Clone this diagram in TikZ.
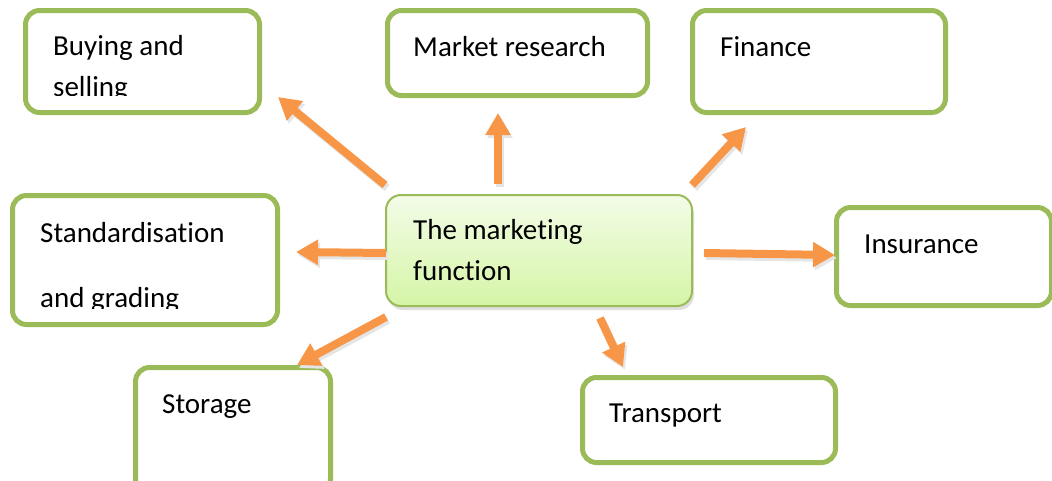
\documentclass[tikz,border=0pt]{standalone}
\usepackage{fontspec}
\setmainfont{Carlito}[Ligatures=CommonOff]
\usepackage{xcolor}
\usetikzlibrary{positioning}
\usetikzlibrary{arrows.meta}
\usetikzlibrary{shadows}

\definecolor{boxgreen}{HTML}{9BBB59}
\definecolor{arrorange}{HTML}{F79646}
\definecolor{midtop}{RGB}{243,252,232}
\definecolor{midbot}{RGB}{213,245,166}

\begin{document}
\begin{tikzpicture}[x=1pt, y=-1pt,
  box/.style={draw=boxgreen, line width=5pt, rounded corners=14pt, fill=white, inner sep=0pt},
  txt/.style={anchor=base west, inner sep=0pt, align=left, font=\fontsize{29}{41}\selectfont},
  arr/.style={draw=arrorange, line width=8pt, -{Triangle[width=24pt,length=22pt]}},
  arrshade/.style={draw=black!10, line width=8pt, -{Triangle[width=24pt,length=22pt]}}]

\clip (0,0) rectangle (1052,480);

% outer boxes
\node[box, minimum width=234pt, minimum height=102pt] (buy) at (142.5,61.5) {};
\node[box, minimum width=260pt, minimum height=85pt] (mkt) at (517.5,53) {};
\node[box, minimum width=253pt, minimum height=102pt] (fin) at (819,61.5) {};
\node[box, minimum width=265pt, minimum height=129pt] (std) at (145,260) {};
\node[box, minimum width=215pt, minimum height=98pt] (ins) at (944,256.5) {};
\node[box, minimum width=195pt, minimum height=125pt] (sto) at (233,430) {};
\node[box, minimum width=253pt, minimum height=85pt] (tra) at (709,420) {};

% centre box
\node[draw=boxgreen, line width=2pt, rounded corners=15pt, top color=midtop, bottom color=midbot,
  drop shadow={shadow xshift=2pt, shadow yshift=-4pt, opacity=0.25},
  minimum width=306pt, minimum height=111pt] (mkf) at (539,250.5) {};

% labels (base anchor sits on the last line)
\begin{scope}
\clip (25,10) rectangle (262,95);
\node[txt] (buyTxt) at (53,96) {Buying and\\selling};
\end{scope}
\node[txt] (mktTxt) at (413,56) {Market research};
\node[txt] (finTxt) at (720,56) {Finance};
\begin{scope}
\clip (10,195) rectangle (280,308);
\node[txt] (stdTxt) at (40,307) {Standardisation\\[24pt]and grading};
\end{scope}
\node[txt] (mkfTxt) at (413,280) {The marketing\\function};
\node[txt] (insTxt) at (864,253) {Insurance};
\node[txt] (stoTxt) at (162,413) {Storage};
\node[txt] (traTxt) at (609,422) {Transport};

% arrow ends
\coordinate (buyTail) at (385,185);  \coordinate (buyTip) at (278,97);
\coordinate (mktTail) at (498,184);  \coordinate (mktTip) at (498,113);
\coordinate (finTail) at (692,185);  \coordinate (finTip) at (746,127);
\coordinate (stdTail) at (386,253);  \coordinate (stdTip) at (296,252);
\coordinate (insTail) at (704,253);  \coordinate (insTip) at (835,255);
\coordinate (stoTail) at (386,317);  \coordinate (stoTip) at (297,365);
\coordinate (traTail) at (600,318);  \coordinate (traTip) at (623,367);

\foreach \a in {buy,mkt,fin,std,ins,sto,tra}{
  \draw[arrshade] ([shift={(2,3)}]\a Tail) -- ([shift={(2,3)}]\a Tip);
  \draw[arr] (\a Tail) -- (\a Tip);
}

\end{tikzpicture}
\end{document}
